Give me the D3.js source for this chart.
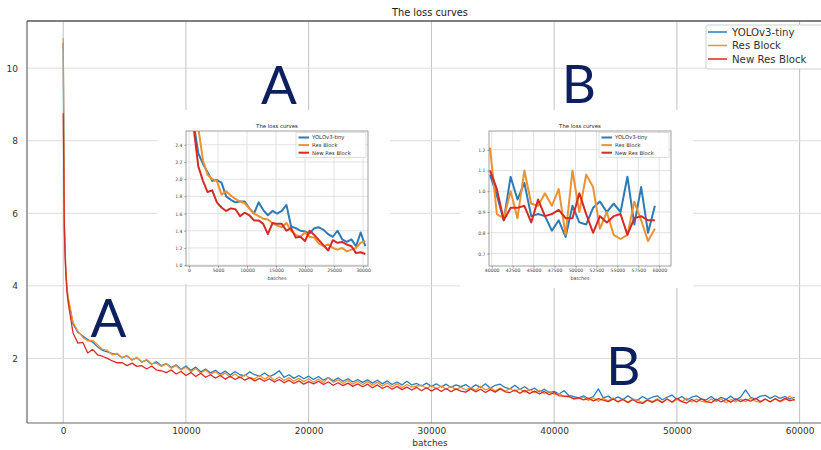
<!DOCTYPE html>
<html><head><meta charset="utf-8">
<script src="https://cdn.jsdelivr.net/npm/d3@7"></script>
<style>body{margin:0;background:#fff}svg{display:block}</style>
</head><body>
<svg id="c" width="821" height="450"></svg>
<script>
// ---------- DATA ----------
const seriesNames = ["YOLOv3-tiny", "Res Block", "New Res Block"];
const seriesColors = ["#2c7bb6", "#ef9130", "#d62a26"];

// main chart (batches)
const mainBatches = [0, 100, 200, 300].concat(d3.range(400, 60000, 400));
const mainYolo = [10.70, 5.60, 4.50, 3.95,
  3.65, 2.95, 2.72, 2.62, 2.52, 2.45, 2.32, 2.22, 2.18, 2.13,
  2.12, 2.02, 2.07, 1.96, 2.02, 1.90, 1.95, 1.84, 1.91, 1.80,
  1.86, 1.75, 1.82, 1.70, 1.79, 1.67, 1.76, 1.63, 1.71, 1.60,
  1.67, 1.57, 1.65, 1.54, 1.64, 1.55, 1.52, 1.63, 1.55, 1.51,
  1.60, 1.50, 1.56, 1.66, 1.48, 1.55, 1.45, 1.53, 1.44, 1.51,
  1.42, 1.50, 1.40, 1.47, 1.38, 1.46, 1.37, 1.44, 1.35, 1.42,
  1.34, 1.41, 1.32, 1.40, 1.30, 1.38, 1.28, 1.35, 1.27, 1.37,
  1.27, 1.31, 1.24, 1.32, 1.23, 1.30, 1.21, 1.29, 1.20, 1.27,
  1.22, 1.28, 1.18, 1.27, 1.20, 1.30, 1.18, 1.26, 1.29, 1.20,
  1.16, 1.26, 1.15, 1.22, 1.12, 1.18, 1.08, 1.15, 1.06, 1.09,
  1.02, 1.11, 0.98, 0.95, 0.91, 0.97, 0.89, 0.95, 1.16, 0.91,
  0.96, 0.87, 0.94, 0.86, 0.97, 0.88, 0.85, 0.95, 0.87, 0.93,
  0.97, 0.86, 0.93, 0.99, 0.87, 0.95, 0.85, 0.93, 0.97, 0.88,
  0.86, 0.95, 0.84, 0.93, 0.87, 0.96, 0.85, 0.94, 1.13, 0.93,
  0.88, 0.96, 0.98, 0.90, 0.97, 0.90, 0.95, 0.88, 0.93];
const mainRes = [10.83, 5.70, 4.60, 4.00,
  3.70, 3.00, 2.75, 2.58, 2.48, 2.50, 2.38, 2.25, 2.22, 2.10,
  2.14, 2.02, 2.08, 1.95, 2.03, 1.90, 1.97, 1.85, 1.87, 1.78,
  1.85, 1.73, 1.80, 1.68, 1.76, 1.63, 1.72, 1.59, 1.68, 1.56,
  1.64, 1.52, 1.60, 1.48, 1.57, 1.46, 1.55, 1.46, 1.44, 1.53,
  1.43, 1.51, 1.40, 1.49, 1.39, 1.47, 1.37, 1.45, 1.36, 1.44,
  1.35, 1.43, 1.33, 1.47, 1.34, 1.41, 1.31, 1.39, 1.29, 1.37,
  1.28, 1.36, 1.26, 1.34, 1.24, 1.32, 1.22, 1.30, 1.20, 1.28,
  1.21, 1.24, 1.26, 1.17, 1.25, 1.16, 1.24, 1.15, 1.23, 1.14,
  1.21, 1.13, 1.20, 1.12, 1.23, 1.13, 1.19, 1.11, 1.18, 1.10,
  1.17, 1.09, 1.16, 1.07, 1.14, 1.06, 1.12, 1.03, 1.09, 1.01,
  1.03, 0.95, 0.95, 0.88, 0.89, 0.93, 0.84, 0.91, 0.82, 0.90,
  0.83, 0.91, 0.81, 0.89, 0.80, 0.88, 0.85, 0.78, 0.87, 0.81,
  0.89, 0.80, 0.88, 0.79, 0.87, 0.81, 0.90, 0.80, 0.88, 0.82,
  0.79, 0.88, 0.81, 0.89, 0.78, 0.87, 0.80, 0.88, 0.81, 0.90,
  0.82, 0.79, 0.88, 0.81, 0.89, 0.80, 0.86, 0.96, 0.83];
const mainNewRes = [8.76, 5.40, 4.40, 3.85,
  3.55, 2.70, 2.42, 2.44, 2.15, 2.25, 2.10, 2.06, 2.00, 1.93,
  1.88, 1.88, 1.80, 1.87, 1.78, 1.80, 1.71, 1.79, 1.68, 1.66,
  1.61, 1.68, 1.57, 1.64, 1.53, 1.61, 1.50, 1.59, 1.48, 1.55,
  1.46, 1.53, 1.43, 1.51, 1.42, 1.49, 1.40, 1.47, 1.38, 1.45,
  1.37, 1.44, 1.35, 1.42, 1.33, 1.40, 1.31, 1.38, 1.29, 1.36,
  1.30, 1.37, 1.28, 1.35, 1.26, 1.33, 1.25, 1.32, 1.23, 1.30,
  1.22, 1.29, 1.19, 1.27, 1.17, 1.24, 1.15, 1.23, 1.14, 1.21,
  1.13, 1.20, 1.11, 1.19, 1.10, 1.18, 1.09, 1.17, 1.08, 1.16,
  1.10, 1.07, 1.16, 1.08, 1.15, 1.06, 1.14, 1.07, 1.16, 1.08,
  1.06, 1.13, 1.04, 1.12, 1.03, 1.10, 1.02, 1.09, 1.00, 1.06,
  0.97, 0.96, 0.95, 0.89, 0.91, 0.86, 0.90, 0.83, 0.89, 0.85,
  0.81, 0.88, 0.80, 0.87, 0.78, 0.86, 0.79, 0.76, 0.85, 0.79,
  0.86, 0.78, 0.88, 0.80, 0.90, 0.81, 0.77, 0.87, 0.80, 0.89,
  0.81, 0.78, 0.88, 0.80, 0.87, 0.79, 0.89, 0.81, 0.88, 0.82,
  0.90, 0.81, 0.88, 0.80, 0.89, 0.82, 0.90, 0.83, 0.87];
const mainXTicks = [0, 10000, 20000, 30000, 40000, 50000, 60000];
const mainYTicks = [2, 4, 6, 8, 10];

// inset A (0 - 30000)
const insetABatches = d3.range(800, 31000, 800);
const insetAYolo = [2.65, 2.30, 2.18, 2.08, 1.98, 1.99, 1.96, 1.80, 1.76, 1.73,
  1.74, 1.74, 1.66, 1.60, 1.73, 1.64, 1.58, 1.63, 1.60, 1.63,
  1.70, 1.45, 1.43, 1.40, 1.39, 1.37, 1.43, 1.44, 1.41, 1.36,
  1.33, 1.40, 1.30, 1.27, 1.30, 1.22, 1.38, 1.22];
const insetARes = [3.00, 2.60, 2.22, 2.05, 2.00, 1.98, 1.82, 1.86, 1.81, 1.77,
  1.74, 1.72, 1.66, 1.60, 1.57, 1.54, 1.53, 1.49, 1.46, 1.44,
  1.49, 1.40, 1.35, 1.33, 1.38, 1.33, 1.32, 1.25, 1.22, 1.24,
  1.20, 1.18, 1.20, 1.16, 1.18, 1.20, 1.26, 1.28];
const insetANewRes = [2.60, 2.15, 1.98, 1.85, 1.87, 1.73, 1.67, 1.63, 1.66, 1.65,
  1.57, 1.61, 1.58, 1.52, 1.52, 1.48, 1.36, 1.49, 1.48, 1.48,
  1.40, 1.43, 1.32, 1.33, 1.28, 1.40, 1.35, 1.29, 1.23, 1.17,
  1.29, 1.26, 1.27, 1.24, 1.22, 1.14, 1.15, 1.13];
const insetAXTicks = [0, 5000, 10000, 15000, 20000, 25000, 30000];
const insetAYTicks = [1.0, 1.2, 1.4, 1.6, 1.8, 2.0, 2.2, 2.4];

// inset B (40000 - 60000)
const insetBBatches = d3.range(39800, 59600, 820);
const insetBYolo = [1.08, 0.98, 0.86, 1.07, 0.96, 1.04, 0.88, 0.89, 0.88, 0.81,
  0.86, 0.78, 0.93, 0.85, 0.84, 0.92, 0.95, 0.90, 0.94, 0.90,
  1.07, 0.84, 1.02, 0.80, 0.93];
const insetBRes = [1.21, 0.89, 0.87, 1.00, 0.87, 1.10, 0.94, 0.93, 0.99, 0.93,
  1.01, 0.79, 1.10, 0.90, 1.08, 1.02, 0.82, 0.90, 0.79, 0.77,
  0.79, 0.95, 0.86, 0.76, 0.82];
const insetBNewRes = [1.10, 1.01, 0.86, 0.92, 0.92, 0.93, 0.85, 0.96, 0.88, 0.89,
  0.91, 0.87, 0.87, 0.99, 0.89, 0.80, 0.88, 0.85, 0.88, 0.89,
  0.79, 0.87, 0.88, 0.86, 0.86];
const insetBXTicks = [40000, 42500, 45000, 47500, 50000, 52500, 55000, 57500, 60000];
const insetBYTicks = [0.7, 0.8, 0.9, 1.0, 1.1, 1.2];

// ---------- DRAW ----------
const svg = d3.select("#c");
const FONT = "DejaVu Sans, sans-serif";
svg.append("rect").attr("width", 821).attr("height", 450).attr("fill", "#fff");

const M = {l: 27, r: 834, t: 21, b: 423};
const x = d3.scaleLinear().domain([-2950, 62800]).range([M.l, M.r]);
const y = d3.scaleLinear().domain([0.22, 11.30]).range([M.b, M.t]);

// grid
const grid = svg.append("g");
grid.selectAll(".gx").data(mainXTicks).join("line")
  .attr("x1", d => x(d)).attr("x2", d => x(d)).attr("y1", M.t).attr("y2", M.b)
  .attr("stroke", "#c2c2c2").attr("stroke-width", 1);
grid.selectAll(".gy").data(mainYTicks).join("line")
  .attr("x1", M.l).attr("x2", M.r).attr("y1", d => y(d)).attr("y2", d => y(d))
  .attr("stroke", "#dcdcdc").attr("stroke-width", 1);

// white panels behind the pasted insets
svg.append("rect").attr("x", 157).attr("y", 110).attr("width", 233).attr("height", 174).attr("fill", "#fff");
svg.append("rect").attr("x", 460).attr("y", 110).attr("width", 233).attr("height", 178).attr("fill", "#fff");

// axes
const xAxis = d3.axisBottom(x).tickValues(mainXTicks).tickSize(0).tickPadding(5).tickFormat(d3.format("d"));
const gx = svg.append("g").attr("transform", `translate(0,${M.b})`).call(xAxis);
gx.select(".domain").remove();
gx.selectAll("text").attr("font-family", FONT).attr("font-size", 9).attr("fill", "#333");
const yAxis = d3.axisLeft(y).tickValues(mainYTicks).tickSize(0).tickPadding(9).tickFormat(d3.format("d"));
const gy = svg.append("g").attr("transform", `translate(${M.l},0)`).call(yAxis);
gy.select(".domain").remove();
gy.selectAll("text").attr("font-family", FONT).attr("font-size", 9).attr("fill", "#333");

// spines
svg.append("line").attr("x1", M.l).attr("x2", M.l).attr("y1", M.t).attr("y2", M.b).attr("stroke", "#666").attr("stroke-width", 1.2);
svg.append("line").attr("x1", M.l).attr("x2", M.r).attr("y1", M.t).attr("y2", M.t).attr("stroke", "#555").attr("stroke-width", 1.3);
svg.append("line").attr("x1", M.l).attr("x2", M.r).attr("y1", M.b).attr("y2", M.b).attr("stroke", "#666").attr("stroke-width", 1.2);

// labels
svg.append("text").attr("x", 430).attr("y", 16).attr("text-anchor", "middle")
  .attr("font-family", FONT).attr("font-size", 9.8).attr("fill", "#222").text("The loss curves");
svg.append("text").attr("x", 430).attr("y", 446).attr("text-anchor", "middle")
  .attr("font-family", FONT).attr("font-size", 9).attr("fill", "#333").text("batches");

// big letters
const LETTER = "Lato, 'Open Sans', sans-serif";
[["A", 279, 104], ["B", 579, 103], ["A", 108.5, 337], ["B", 623.5, 385]].forEach(([t, lx, ly]) => {
  svg.append("text").attr("x", lx).attr("y", ly).attr("text-anchor", "middle")
    .attr("font-family", LETTER).attr("font-size", 53).attr("fill", "#0c1f5e").text(t);
});

// main lines
svg.append("clipPath").attr("id", "mainClip").append("rect")
  .attr("x", M.l).attr("y", M.t).attr("width", M.r - M.l).attr("height", M.b - M.t);
const mainSeries = [mainYolo, mainRes, mainNewRes];
const mainLine = d3.line().x((d, i) => x(mainBatches[i])).y(d => y(d));
const ml = svg.append("g").attr("clip-path", "url(#mainClip)");
mainSeries.forEach((s, k) => {
  ml.append("path").datum(s).attr("d", mainLine).attr("fill", "none")
    .attr("stroke", seriesColors[k]).attr("stroke-width", 1.3).attr("stroke-linejoin", "round");
});

// main legend
const lg = svg.append("g");
lg.append("rect").attr("x", 706).attr("y", 25).attr("width", 130).attr("height", 44)
  .attr("fill", "#fff").attr("stroke", "#d0d0d0").attr("rx", 2);
seriesNames.forEach((n, k) => {
  const ly = 32 + k * 13.5;
  lg.append("line").attr("x1", 708).attr("x2", 727).attr("y1", ly).attr("y2", ly)
    .attr("stroke", seriesColors[k]).attr("stroke-width", 1.5);
  lg.append("text").attr("x", 732).attr("y", ly + 3.6).attr("font-family", FONT)
    .attr("font-size", 10.2).attr("fill", "#333").text(n);
});

// insets
function inset(cfg) {
  const g = svg.append("g");
  const ix = d3.scaleLinear().domain(cfg.xDomain).range([cfg.box[0], cfg.box[2]]);
  const iy = d3.scaleLinear().domain(cfg.yDomain).range([cfg.box[3], cfg.box[1]]);
  g.selectAll(".vx").data(cfg.xTicks).join("line")
    .attr("x1", d => ix(d)).attr("x2", d => ix(d)).attr("y1", cfg.box[1]).attr("y2", cfg.box[3])
    .attr("stroke", "#dadada").attr("stroke-width", 0.8);
  g.selectAll(".hy").data(cfg.yTicks).join("line")
    .attr("x1", cfg.box[0]).attr("x2", cfg.box[2]).attr("y1", d => iy(d)).attr("y2", d => iy(d))
    .attr("stroke", "#dadada").attr("stroke-width", 0.8);
  const id = "clip" + cfg.name;
  svg.append("clipPath").attr("id", id).append("rect")
    .attr("x", cfg.box[0]).attr("y", cfg.box[1])
    .attr("width", cfg.box[2] - cfg.box[0]).attr("height", cfg.box[3] - cfg.box[1]);
  const lines = g.append("g").attr("clip-path", `url(#${id})`);
  const ln = d3.line().x((d, i) => ix(cfg.batches[i])).y(d => iy(d));
  cfg.series.forEach((s, k) => {
    lines.append("path").datum(s).attr("d", ln).attr("fill", "none")
      .attr("stroke", seriesColors[k]).attr("stroke-width", 2).attr("stroke-linejoin", "round");
  });
  g.append("rect").attr("x", cfg.box[0]).attr("y", cfg.box[1])
    .attr("width", cfg.box[2] - cfg.box[0]).attr("height", cfg.box[3] - cfg.box[1])
    .attr("fill", "none").attr("stroke", "#888").attr("stroke-width", 0.8);
  const xa = g.append("g").attr("transform", `translate(0,${cfg.box[3]})`)
    .call(d3.axisBottom(ix).tickValues(cfg.xTicks).tickSize(1.5).tickPadding(1.5).tickFormat(d3.format("d")));
  xa.select(".domain").remove();
  xa.selectAll("line").attr("stroke", "#888");
  xa.selectAll("text").attr("font-family", FONT).attr("font-size", 4.6).attr("fill", "#444");
  const ya = g.append("g").attr("transform", `translate(${cfg.box[0]},0)`)
    .call(d3.axisLeft(iy).tickValues(cfg.yTicks).tickSize(1.5).tickPadding(2).tickFormat(d3.format(".1f")));
  ya.select(".domain").remove();
  ya.selectAll("line").attr("stroke", "#888");
  ya.selectAll("text").attr("font-family", FONT).attr("font-size", 4.6).attr("fill", "#444");
  const cx = (cfg.box[0] + cfg.box[2]) / 2;
  g.append("text").attr("x", cx).attr("y", cfg.box[1] - 3).attr("text-anchor", "middle")
    .attr("font-family", FONT).attr("font-size", 5.4).attr("fill", "#222").text("The loss curves");
  g.append("text").attr("x", cx).attr("y", cfg.box[3] + 14).attr("text-anchor", "middle")
    .attr("font-family", FONT).attr("font-size", 4.8).attr("fill", "#444").text("batches");
  // legend
  const lx = cfg.box[2] - 72, ly0 = cfg.box[1] + 1.5;
  g.append("rect").attr("x", lx).attr("y", ly0).attr("width", 70).attr("height", 25)
    .attr("fill", "#fff").attr("fill-opacity", 0.9).attr("stroke", "#ccc").attr("stroke-width", 0.6);
  seriesNames.forEach((n, k) => {
    const yy = ly0 + 5 + k * 7.6;
    g.append("line").attr("x1", lx + 2.5).attr("x2", lx + 13).attr("y1", yy).attr("y2", yy)
      .attr("stroke", seriesColors[k]).attr("stroke-width", 2);
    g.append("text").attr("x", lx + 16).attr("y", yy + 1.8).attr("font-family", FONT)
      .attr("font-size", 5.3).attr("fill", "#333").text(n);
  });
}

inset({name: "A", box: [186, 131, 368, 266], xDomain: [-520, 30860], yDomain: [0.99, 2.56],
  xTicks: insetAXTicks, yTicks: insetAYTicks, batches: insetABatches,
  series: [insetAYolo, insetARes, insetANewRes]});
inset({name: "B", box: [489, 131, 671, 266], xDomain: [39680, 61400], yDomain: [0.64, 1.29],
  xTicks: insetBXTicks, yTicks: insetBYTicks, batches: insetBBatches,
  series: [insetBYolo, insetBRes, insetBNewRes]});
</script>
</body></html>
